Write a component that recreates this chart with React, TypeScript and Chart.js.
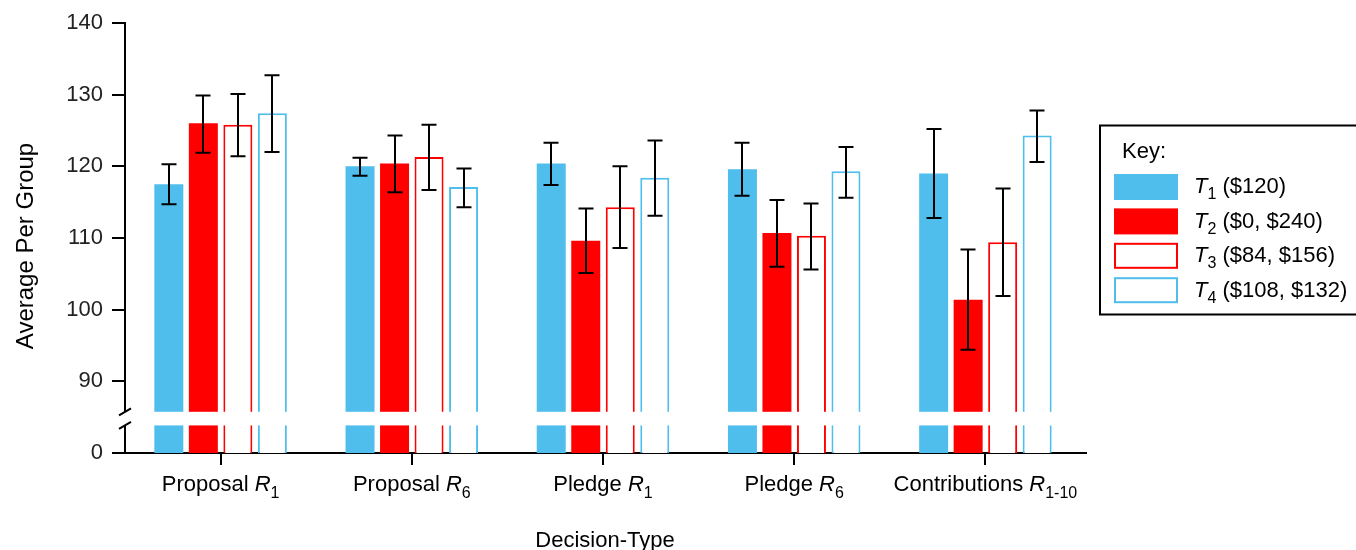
import React, { useEffect, useRef } from "react";
import { Chart, registerables } from "chart.js";

Chart.register(...registerables);

// ---------- data ----------
const categoryBase = ["Proposal", "Proposal", "Pledge", "Pledge", "Contributions"];
const categorySub = ["1", "6", "1", "6", "1-10"];

const seriesSub = ["1", "2", "3", "4"];
const seriesNote = ["($120)", "($0, $240)", "($84, $156)", "($108, $132)"];

const t1 = [117.5, 120.0, 120.4, 119.6, 119.0];
const t1Hi = [120.3, 121.2, 123.3, 123.3, 125.2];
const t1Lo = [114.7, 118.7, 117.4, 115.9, 112.8];

const t2 = [126.0, 120.4, 109.6, 110.7, 101.4];
const t2Hi = [129.9, 124.3, 114.1, 115.3, 108.4];
const t2Lo = [121.9, 116.4, 105.1, 106.0, 94.4];

const t3 = [125.8, 121.3, 114.3, 110.3, 109.4];
const t3Hi = [130.1, 125.8, 120.0, 114.8, 116.9];
const t3Lo = [121.4, 116.7, 108.6, 105.6, 101.9];

const t4 = [127.4, 117.1, 118.4, 119.3, 124.3];
const t4Hi = [132.7, 119.7, 123.6, 122.7, 127.8];
const t4Lo = [122.0, 114.3, 113.1, 115.6, 120.6];

// y axis: the bottom tick (scale value 80) stands for 0 (broken axis)
const yTickValues = [80, 90, 100, 110, 120, 130, 140];
const yTickLabels = ["0", "90", "100", "110", "120", "130", "140"];
const yMin = 80;
const yMax = 140;
const breakHigh = 85.75;
const breakLow = 83.85;

const FONT = '"Liberation Sans", Arial, Helvetica, sans-serif';
const BLUE = "rgb(79,190,236)";
const RED = "rgb(255,0,0)";

type Part = { text: string; font: string; dy?: number };

function partsWidth(ctx: CanvasRenderingContext2D, parts: Part[]) {
  let w = 0;
  for (const p of parts) {
    ctx.font = p.font;
    w += ctx.measureText(p.text).width;
  }
  return w;
}

function drawParts(ctx: CanvasRenderingContext2D, parts: Part[], x: number, y: number) {
  let cx = x;
  for (const p of parts) {
    ctx.font = p.font;
    ctx.fillText(p.text, cx, y + (p.dy || 0));
    cx += ctx.measureText(p.text).width;
  }
}

export default function App() {
  const ref = useRef<HTMLCanvasElement>(null);

  useEffect(() => {
    if (!ref.current) return;
    const values = [t1, t2, t3, t4];
    const his = [t1Hi, t2Hi, t3Hi, t4Hi];
    const los = [t1Lo, t2Lo, t3Lo, t4Lo];
    const fills = [BLUE, RED, "#ffffff", "#ffffff"];
    const borders = [BLUE, RED, RED, BLUE];
    const bws = [0, 0, 2, 2];
    const labels = categoryBase.map((b, i) => `${b} R${categorySub[i]}`);

    const custom = {
      id: "custom",
      afterDatasetsDraw(chart: any) {
        const ctx: CanvasRenderingContext2D = chart.ctx;
        const ys = chart.scales.y;
        const area = chart.chartArea;
        ctx.save();
        // error bars
        ctx.strokeStyle = "#000";
        ctx.lineWidth = 2;
        values.forEach((_, i) => {
          const meta = chart.getDatasetMeta(i);
          meta.data.forEach((bar: any, j: number) => {
            const cx = Math.round(bar.x);
            const yh = ys.getPixelForValue(his[i][j]);
            const yl = ys.getPixelForValue(los[i][j]);
            ctx.beginPath();
            ctx.moveTo(cx, yh);
            ctx.lineTo(cx, yl);
            ctx.moveTo(cx - 7.5, yh);
            ctx.lineTo(cx + 7.5, yh);
            ctx.moveTo(cx - 7.5, yl);
            ctx.lineTo(cx + 7.5, yl);
            ctx.stroke();
          });
        });
        // axis break band
        const bTop = ys.getPixelForValue(breakHigh);
        const bBot = ys.getPixelForValue(breakLow);
        ctx.fillStyle = "#ffffff";
        ctx.fillRect(area.left - 6, bTop, area.right - area.left + 6, bBot - bTop);
        ctx.beginPath();
        ctx.moveTo(area.left - 6, bTop + 3.5);
        ctx.lineTo(area.left + 6, bTop - 3.5);
        ctx.moveTo(area.left - 6, bBot + 3.5);
        ctx.lineTo(area.left + 6, bBot - 3.5);
        ctx.stroke();
        // x axis line extension to the right
        ctx.beginPath();
        ctx.moveTo(area.right - 1, area.bottom);
        ctx.lineTo(area.right + 6, area.bottom);
        ctx.stroke();
        ctx.restore();
      },
      afterDraw(chart: any) {
        const ctx: CanvasRenderingContext2D = chart.ctx;
        const xs = chart.scales.x;
        const area = chart.chartArea;
        ctx.save();
        ctx.fillStyle = "#000";
        ctx.textBaseline = "alphabetic";
        ctx.textAlign = "left";
        // category labels
        categoryBase.forEach((b, i) => {
          const parts: Part[] = [
            { text: b + " ", font: `22px ${FONT}` },
            { text: "R", font: `italic 22px ${FONT}` },
            { text: categorySub[i], font: `16px ${FONT}`, dy: 7 },
          ];
          const w = partsWidth(ctx, parts);
          const cx = xs.getPixelForValue(i);
          drawParts(ctx, parts, cx - w / 2, 491);
        });
        // x title
        ctx.font = `22px ${FONT}`;
        ctx.textAlign = "center";
        ctx.fillText("Decision-Type", (area.left + area.right) / 2 + 2, 547);
        // y title
        ctx.save();
        ctx.translate(33, 246);
        ctx.rotate(-Math.PI / 2);
        ctx.font = `24px ${FONT}`;
        ctx.textAlign = "center";
        ctx.fillText("Average Per Group", 0, 0);
        ctx.restore();
        // legend box
        ctx.textAlign = "left";
        ctx.strokeStyle = "#000";
        ctx.lineWidth = 2;
        ctx.strokeRect(1100, 125.5, 300, 189);
        ctx.font = `22px ${FONT}`;
        ctx.fillText("Key:", 1122, 158);
        seriesSub.forEach((s, k) => {
          const top = 174 + k * 34.4;
          if (bws[k] === 0) {
            ctx.fillStyle = fills[k];
            ctx.fillRect(1114, top, 64, 26);
          } else {
            ctx.fillStyle = "#ffffff";
            ctx.fillRect(1114, top, 64, 26);
            ctx.strokeStyle = borders[k];
            ctx.lineWidth = 2;
            ctx.strokeRect(1115, top + 1, 62, 24);
          }
          ctx.fillStyle = "#000";
          drawParts(
            ctx,
            [
              { text: "T", font: `italic 22px ${FONT}` },
              { text: s, font: `16px ${FONT}`, dy: 6 },
              { text: " " + seriesNote[k], font: `22px ${FONT}` },
            ],
            1194,
            193.3 + k * 34.4
          );
        });
        ctx.restore();
      },
    };

    const chart = new Chart(ref.current, {
      type: "bar",
      data: {
        labels,
        datasets: values.map((v, i) => ({
          label: `T${seriesSub[i]} ${seriesNote[i]}`,
          data: v,
          backgroundColor: fills[i],
          borderColor: borders[i],
          borderWidth: bws[i],
          borderSkipped: "start",
          categoryPercentage: 0.722,
          barPercentage: 0.84,
        })),
      },
      options: {
        animation: false,
        responsive: true,
        maintainAspectRatio: false,
        layout: { padding: { top: 23, right: 275, left: 0, bottom: 0 } },
        font: { family: FONT },
        plugins: {
          legend: { display: false },
          tooltip: { enabled: false },
          title: { display: false },
        },
        scales: {
          x: {
            type: "category",
            offset: true,
            grid: {
              display: true,
              offset: false,
              drawOnChartArea: false,
              drawTicks: true,
              tickLength: 12,
              lineWidth: 2,
              color: "#000",
            },
            border: { display: true, color: "#000", width: 2 },
            ticks: { display: false },
            afterFit: (s: any) => {
              s.height = 97;
              s.paddingLeft = 0;
              s.paddingRight = 0;
              s.paddingTop = 0;
              s.paddingBottom = 0;
            },
          },
          y: {
            type: "linear",
            min: yMin,
            max: yMax,
            grid: {
              display: true,
              drawOnChartArea: false,
              drawTicks: true,
              tickLength: 13,
              lineWidth: 2,
              color: "#000",
            },
            border: { display: true, color: "#000", width: 2 },
            afterBuildTicks: (s: any) => {
              s.ticks = yTickValues.map((v) => ({ value: v }));
            },
            ticks: {
              padding: 9,
              color: "#222",
              font: { family: FONT, size: 22 },
              callback: (val: any) => {
                const idx = yTickValues.indexOf(Number(val));
                return idx >= 0 ? yTickLabels[idx] : "";
              },
            },
            afterFit: (s: any) => {
              s.width = 125;
              s.paddingLeft = 0;
              s.paddingRight = 0;
              s.paddingTop = 0;
              s.paddingBottom = 0;
            },
          },
        },
      },
      plugins: [custom],
    } as any);

    return () => chart.destroy();
  }, []);

  return (
    <div style={{ position: "fixed", left: 0, top: 0, width: 1356, height: 550, background: "#fff" }}>
      <canvas ref={ref} />
    </div>
  );
}
